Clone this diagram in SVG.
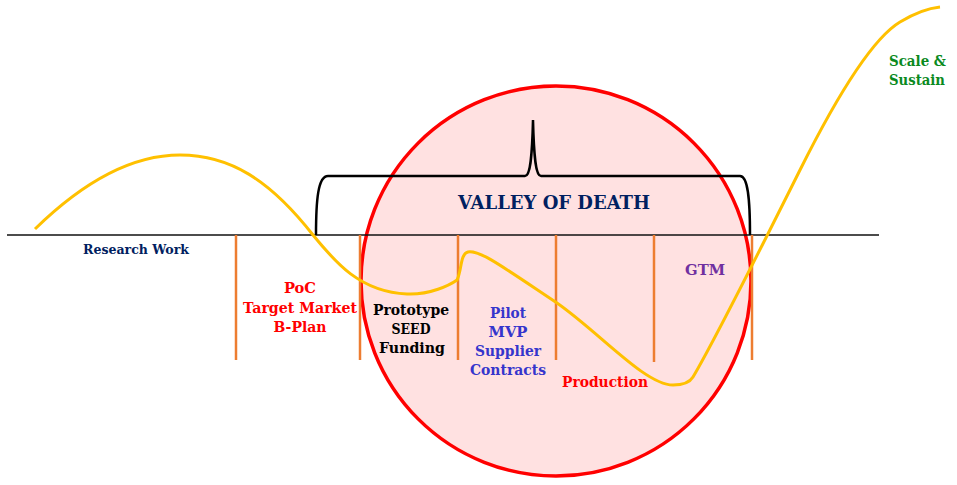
<svg xmlns="http://www.w3.org/2000/svg" width="957" height="485" viewBox="0 0 957 485">
<style>
text{font-family:"DejaVu Serif","Liberation Serif",serif;font-weight:bold;text-anchor:middle}
.stage{stroke:#ed7d31;stroke-width:2.5;fill:none}
.navy{fill:#002060}
.red{fill:#ff0000}
.blk{fill:#000}
.blue{fill:#3535cc}
.purple{fill:#7030a0}
.green{fill:#0a8a1e}
</style>
<rect width="957" height="485" fill="#fff"/>
<g id="valley-circle">
<circle cx="556" cy="281" r="195" fill="#ffe1e1" stroke="#ff0000" stroke-width="3.5"/>
</g>
<g id="connectors">
<line x1="7" y1="235" x2="879" y2="235" stroke="#111" stroke-width="1.5"/>
<line class="stage" x1="236" y1="235" x2="236" y2="360"/>
<line class="stage" x1="360" y1="235" x2="360" y2="360"/>
<line class="stage" x1="458" y1="235" x2="458" y2="360"/>
<line class="stage" x1="556" y1="235" x2="556" y2="360"/>
<line class="stage" x1="654" y1="235" x2="654" y2="362"/>
<line class="stage" x1="752" y1="235" x2="752" y2="360"/>
<path d="M316,235 C316,200 318,176 328,176 L525,176 C530,176 532,160 533,120 C534,160 536,176 541,176 L740,176 C748,176 750,200 750,235" fill="none" stroke="#000" stroke-width="2.5"/>
<path d="M35,229 C80,185 130,155 180,155 C230,155 270,180 313,235 C335,262 360,292 407,294 C430,295 450,285 457,280 C462,270 460,254 468,252 C480,250 500,265 557,303 C600,333 645,385 673,385 C684,385 690,382 693,377 C715,340 760,250 800,170 C830,110 870,40 900,22 C915,13 930,8 940,7" fill="none" stroke="#ffc000" stroke-width="3"/>
</g>
<g id="research"><text class="navy" x="136" y="254" font-size="12" textLength="106" lengthAdjust="spacingAndGlyphs">Research Work</text></g>
<g id="poc">
<text class="red" x="300" y="293" font-size="15" textLength="32" lengthAdjust="spacingAndGlyphs">PoC</text>
<text class="red" x="300" y="313" font-size="15" textLength="114" lengthAdjust="spacingAndGlyphs">Target Market</text>
<text class="red" x="300" y="332" font-size="15" textLength="53" lengthAdjust="spacingAndGlyphs">B-Plan</text>
</g>
<g id="prototype">
<text class="blk" x="411" y="315" font-size="15" textLength="76" lengthAdjust="spacingAndGlyphs">Prototype</text>
<text class="blk" x="411" y="334" font-size="15" textLength="39" lengthAdjust="spacingAndGlyphs">SEED</text>
<text class="blk" x="412" y="353" font-size="15" textLength="66" lengthAdjust="spacingAndGlyphs">Funding</text>
</g>
<g id="pilot">
<text class="blue" x="508" y="318" font-size="15" textLength="36" lengthAdjust="spacingAndGlyphs">Pilot</text>
<text class="blue" x="508" y="337" font-size="15" textLength="39" lengthAdjust="spacingAndGlyphs">MVP</text>
<text class="blue" x="508" y="356" font-size="15" textLength="66" lengthAdjust="spacingAndGlyphs">Supplier</text>
<text class="blue" x="508" y="375" font-size="15" textLength="76" lengthAdjust="spacingAndGlyphs">Contracts</text>
</g>
<g id="production"><text class="red" x="605" y="387" font-size="15" textLength="86" lengthAdjust="spacingAndGlyphs">Production</text></g>
<g id="gtm"><text class="purple" x="705" y="275" font-size="15" textLength="40" lengthAdjust="spacingAndGlyphs">GTM</text></g>
<g id="valley-label"><text class="navy" x="554" y="209" font-size="18" textLength="192" lengthAdjust="spacingAndGlyphs">VALLEY OF DEATH</text></g>
<g id="scale">
<text class="green" x="889" y="66" font-size="14" textLength="57" lengthAdjust="spacingAndGlyphs" style="text-anchor:start">Scale &amp;</text>
<text class="green" x="889" y="85" font-size="14" textLength="56" lengthAdjust="spacingAndGlyphs" style="text-anchor:start">Sustain</text>
</g>
</svg>
